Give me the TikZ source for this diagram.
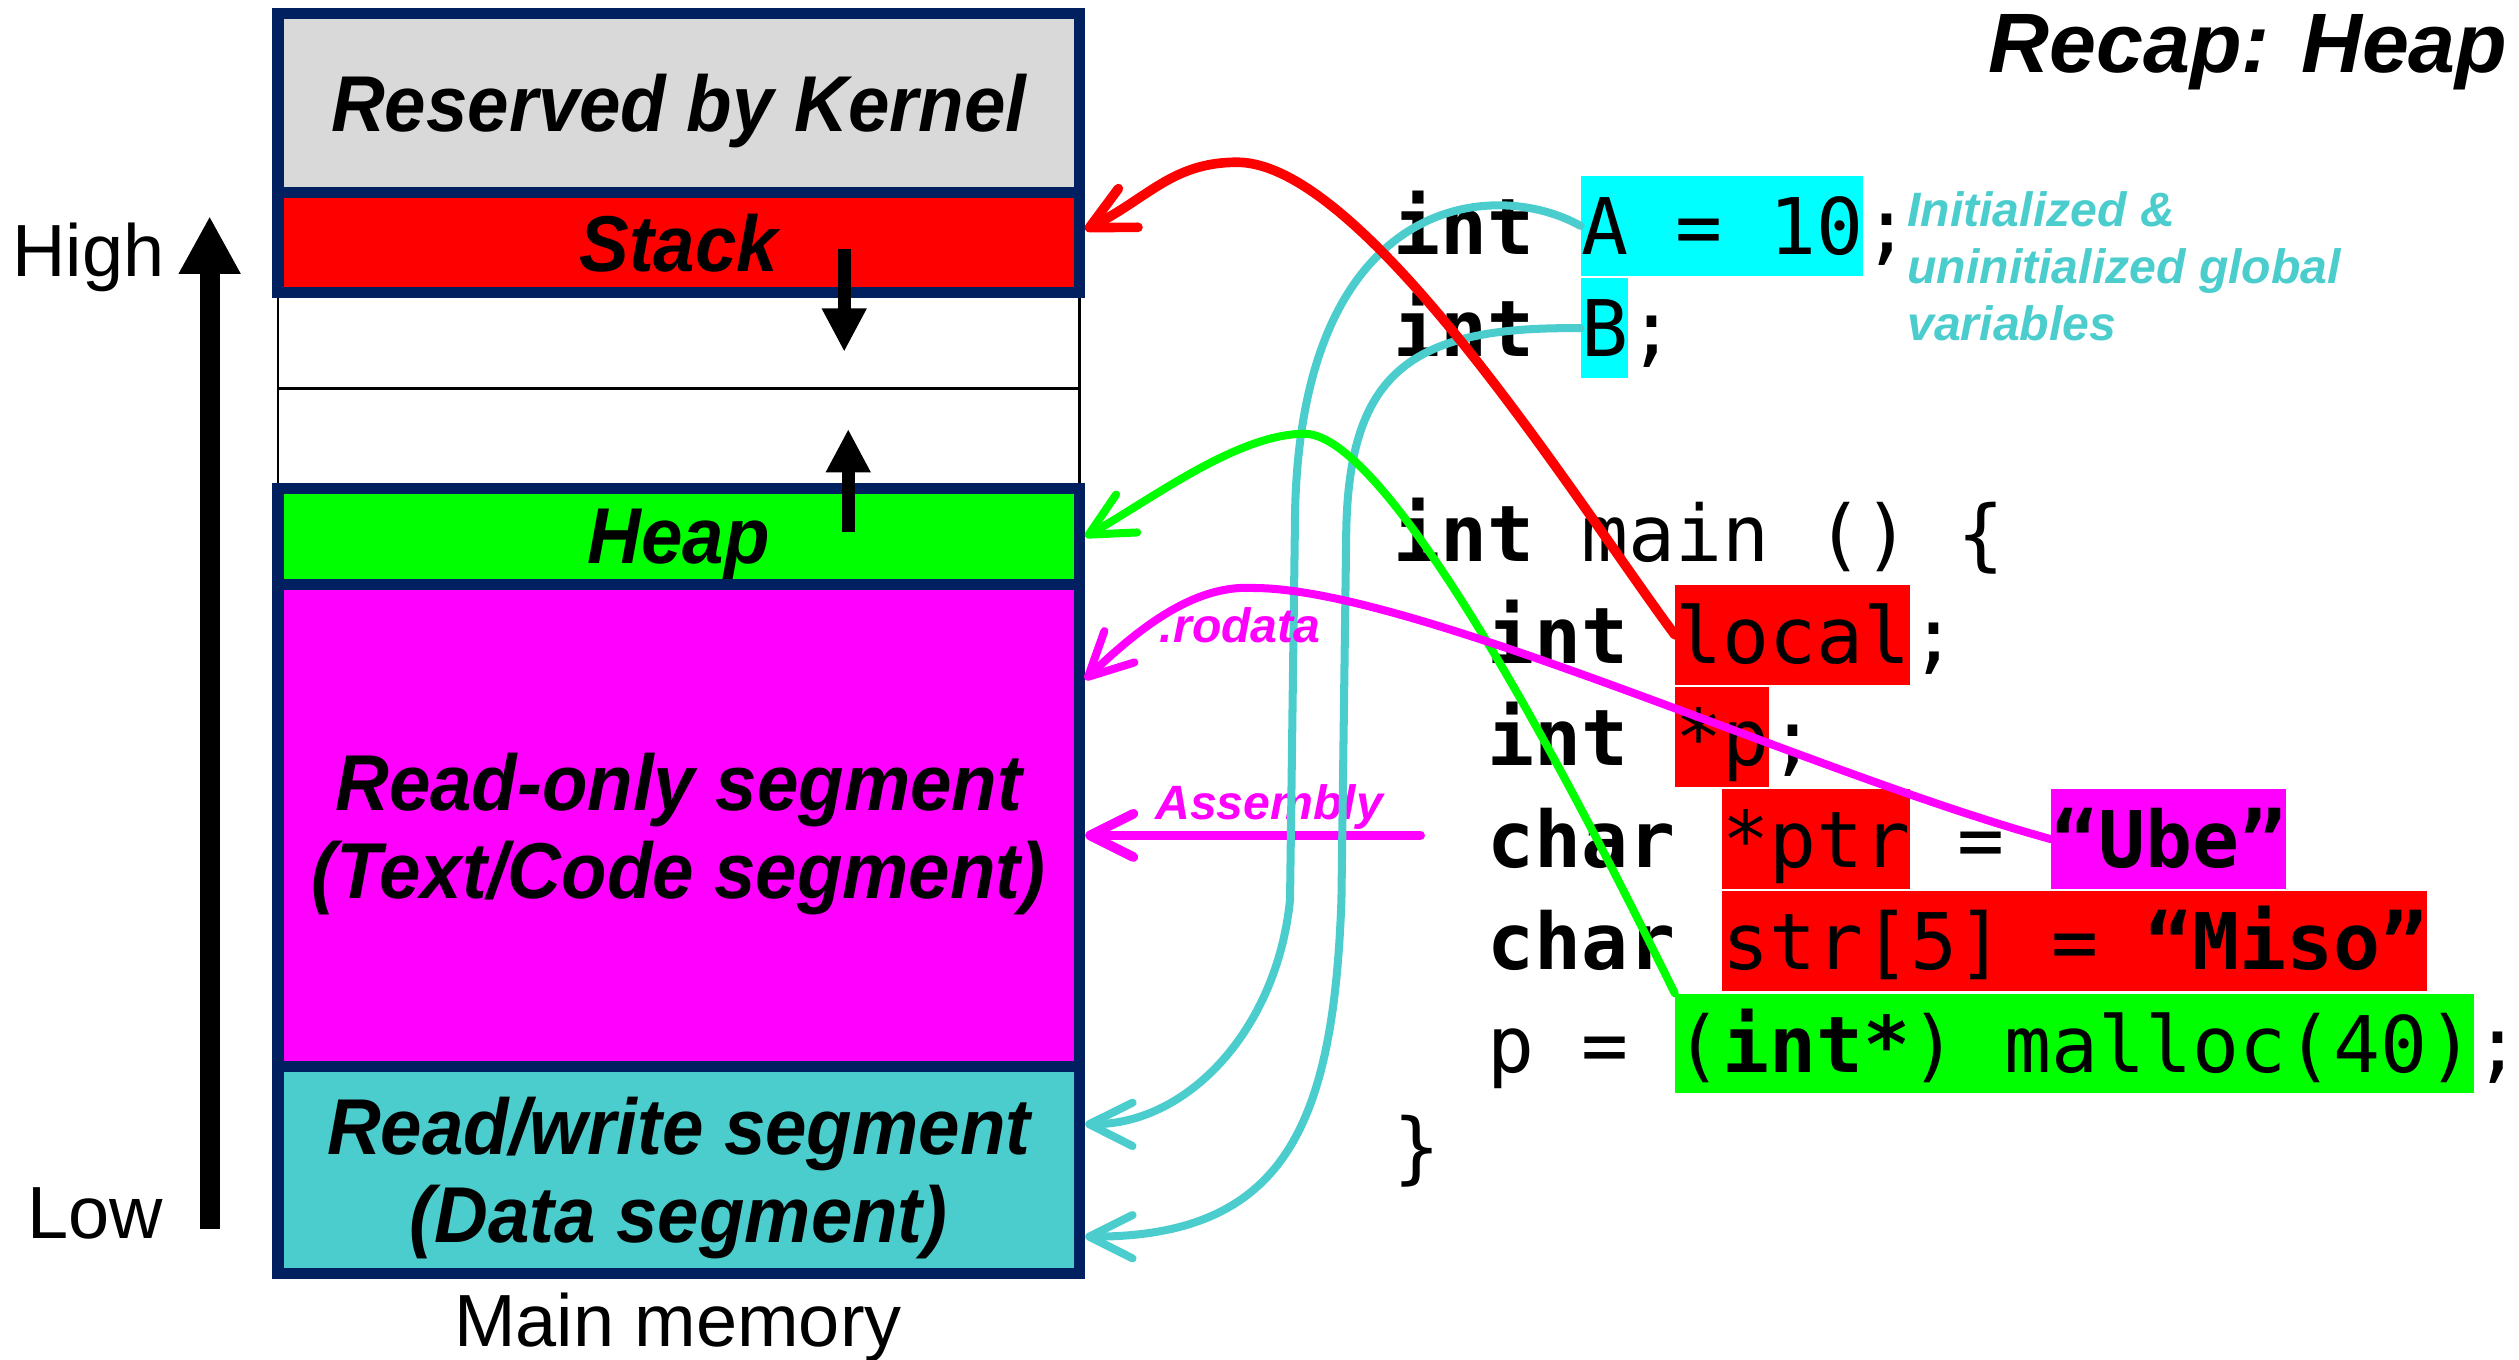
\documentclass[tikz,border=0pt]{standalone}
\usepackage{fontspec}
\setmainfont{Liberation Sans}
\newfontfamily\segfont[FakeStretch=0.94]{Liberation Sans}
\newfontfamily\codefont{DejaVu Sans Mono}
\usetikzlibrary{arrows.meta}

\definecolor{navy}{HTML}{002060}
\definecolor{kgrey}{HTML}{D9D9D9}
\definecolor{dteal}{HTML}{4CCDCD}
\definecolor{hred}{HTML}{FF0000}
\definecolor{hgreen}{HTML}{00FF00}
\definecolor{hmag}{HTML}{FF00FF}
\definecolor{hcyan}{HTML}{00FFFF}

\begin{document}
\begin{tikzpicture}[x=1pt,y=-1pt,
  memseg/.style={draw=navy, line width=7pt, minimum width=499pt, inner sep=0pt, text depth=0pt,
    font=\segfont\fontsize{49.3}{55}\selectfont\bfseries\itshape, align=center},
  freeseg/.style={draw=black, line width=1.7pt, fill=white, minimum width=499pt, inner sep=0pt},
  hilite/.style={inner sep=0pt, anchor=north west, minimum height=62pt},
  srcline/.style={anchor=base west, inner sep=0pt, font=\codefont\fontsize{48.6}{60}\selectfont},
  notetext/.style={anchor=base west, inner sep=0pt, text=dteal, font=\fontsize{30}{36}\selectfont\bfseries\itshape},
  tagtext/.style={anchor=base, inner sep=0pt, text=hmag, font=\fontsize{30}{36}\selectfont\bfseries\itshape},
  plaintext/.style={anchor=base, inner sep=0pt, font=\fontsize{46}{50}\selectfont},
  linkarrow/.style={line width=5pt, line cap=round, -{Straight Barb[length=27pt,width=27pt,round]}},
  growarrow/.style={line width=8pt, -{Triangle[length=27pt,width=26pt]}},
]
\useasboundingbox (0,0) rectangle (1568,846);

% ---------- memory layout ----------
\node[freeseg, minimum height=60pt] (free1) at (422.5,212) {};
\node[freeseg, minimum height=62pt] (free2) at (422.5,273) {};
\node[memseg, fill=kgrey, minimum height=111.5pt] (kernel) at (422.5,64.25) {Reserved by Kernel};
\node[memseg, fill=hred, minimum height=62pt] (stack) at (422.5,151) {Stack};
\node[memseg, fill=hgreen, minimum height=60pt] (heap) at (422.5,334) {Heap};
\node[memseg, fill=hmag, minimum height=300pt] (rom) at (422.5,514) {Read-only segment\\(Text/Code segment)};
\node[memseg, fill=dteal, minimum height=128.5pt] (ram) at (422.5,728.25) {Read/write segment\\(Data segment)};

% growth directions of stack and heap
\coordinate (sgrow0) at (525.5,155);
\coordinate (sgrow1) at (525.5,219);
\coordinate (hgrow0) at (528,331);
\coordinate (hgrow1) at (528,267);
\draw[growarrow] (sgrow0) -- (sgrow1);
\draw[growarrow] (hgrow0) -- (hgrow1);

% address axis
\coordinate (axis0) at (130.5,765);
\coordinate (axis1) at (130.5,134.5);
\draw[line width=12.5pt, -{Triangle[length=36pt,width=36pt]}] (axis0) -- (axis1);
\node[plaintext] (high) at (55,172) {High};
\node[plaintext] (low) at (59,771) {Low};
\node[plaintext] (mainmem) at (422,838) {Main memory};

% title
\node[anchor=base east, inner sep=0pt, font=\fontsize{52.5}{60}\selectfont\bfseries\itshape] (title) at (1561,45) {Recap: Heap};

% ---------- source code ----------
\node[hilite, fill=hcyan, minimum width=175.5pt] (hA) at (984,109.5) {};
\node[hilite, fill=hcyan, minimum width=29.25pt] (hB) at (984,173.1) {};
\node[hilite, fill=hred, minimum width=146.25pt] (hLocal) at (1042.5,363.9) {};
\node[hilite, fill=hred, minimum width=58.5pt] (hP) at (1042.5,427.5) {};
\node[hilite, fill=hred, minimum width=117pt] (hPtr) at (1071.75,491.1) {};
\node[hilite, fill=hmag, minimum width=146.25pt] (hUbe) at (1276.5,491.1) {};
\node[hilite, fill=hred, minimum width=438.75pt] (hMiso) at (1071.75,554.7) {};
\node[hilite, fill=hgreen, minimum width=497.25pt] (hMalloc) at (1042.5,618.3) {};

\node[srcline] (c1) at (867,158.5) {{\bfseries int} A = 10;};
\node[srcline] (c2) at (867,222.1) {{\bfseries int} B;};
\node[srcline] (c3) at (867,349.3) {{\bfseries int} main () \{};
\node[srcline] (c4) at (925.5,412.9) {{\bfseries int} local;};
\node[srcline] (c5) at (925.5,476.5) {{\bfseries int} *p;};
\node[srcline] (c6) at (925.5,540.1) {{\bfseries char} *ptr = {\bfseries “Ube”}};
\node[srcline] (c7) at (925.5,603.7) {{\bfseries char} str[5] = {\bfseries “Miso”}};
\node[srcline] (c8) at (925.5,667.3) {p = ({\bfseries int*}) malloc(40);};
\node[srcline] (c9) at (867,730.9) {\}};

\node[notetext] (n1) at (1187,141) {Initialized \&};
\node[notetext] (n2) at (1187,176.5) {uninitialized global};
\node[notetext] (n3) at (1187,212) {variables};

% ---------- where each item lives ----------
\coordinate (asmfrom) at (884,520);
\draw[linkarrow, draw=hmag, line width=6pt] (asmfrom) -- ([yshift=-6pt]rom.east);
\node[tagtext] (asmlabel) at (790,510) {Assembly};

\draw[linkarrow, draw=dteal] (hA.west) .. controls (930,110) and (806,120) .. (806,330)
  -- (803,560) .. controls (795,640) and (740,700) .. ([yshift=28.5pt]ram.east);
\draw[linkarrow, draw=dteal] (hB.west) .. controls (880,203) and (840,230) .. (838,330)
  -- (835,560) .. controls (830,700) and (800,770) .. ([yshift=-41.5pt]ram.east);

\draw[linkarrow, draw=hred, line width=6pt] (hLocal.west) .. controls (983,315) and (850,101) .. (770,101)
  .. controls (730,101) and (715,123) .. ([yshift=8pt]stack.east);

\draw[linkarrow, draw=hgreen] (hMalloc.north west) .. controls (1001,534) and (870,270) .. (812,270)
  .. controls (770,270) and (715,312) .. (heap.east);

\draw[linkarrow, draw=hmag] (hUbe.west) .. controls (1126,481) and (880,366) .. (780,366)
  .. controls (745,364) and (712,388) .. ([yshift=91pt]rom.east);
\node[tagtext] (rolabel) at (772,400) {.rodata};
\end{tikzpicture}
\end{document}
